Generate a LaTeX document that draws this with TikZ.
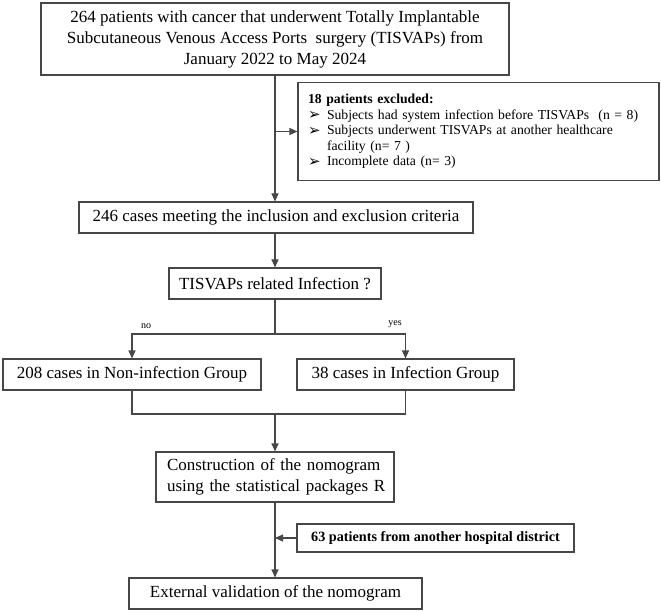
\documentclass[tikz,border=0pt]{standalone}
\usepackage{fontspec}
\setmainfont{Liberation Serif}
\newfontfamily\dejavu{DejaVu Sans}
\usetikzlibrary{arrows.meta}
\newcommand{\bulitem}{\makebox[19pt][l]{\raisebox{-0.3pt}{\dejavu\fontsize{15}{12}\selectfont ➢}}}
\begin{document}
\begin{tikzpicture}[x=1pt,y=-1pt,
  box/.style={draw=black!72, line width=1.1pt, inner sep=0pt, align=center},
  conn/.style={draw=black!72, line width=1.1pt},
  arr/.style={conn,-{Triangle[length=8pt,width=7pt]}},
  big/.style={font=\fontsize{17}{21}\selectfont},
  small/.style={font=\fontsize{13.7}{15.6}\selectfont},
  lbl/.style={font=\fontsize{10}{12}\selectfont, inner sep=0pt}
]
\useasboundingbox (0,0) rectangle (661,612);
\fill[white] (0,0) rectangle (661,612);

\node[box,big,minimum width=468pt,minimum height=72pt] (b1) at (275,39)
  {264 patients with cancer that underwent Totally Implantable\\
   Subcutaneous Venous Access Ports\ \ surgery (TISVAPs) from\\
   January 2022 to May 2024};

\node[box,small,minimum width=361pt,minimum height=98pt,text width=341pt,align=left] (ex) at (478.5,131.5)
  {\textbf{18 patients excluded:}\\
   \bulitem Subjects had system infection before TISVAPs\ \ (n = 8)\\
   \bulitem Subjects underwent TISVAPs\ at another healthcare\\
   \hspace*{19pt}facility (n= 7 )\\
   \bulitem Incomplete data (n= 3)};

\node[box,big,minimum width=394pt,minimum height=31pt] (b246) at (276,217.5)
  {246 cases meeting the inclusion and exclusion criteria};

\node[box,big,minimum width=212pt,minimum height=31pt] (q) at (275,283.5)
  {TISVAPs related Infection ?};

\node[box,big,minimum width=258pt,minimum height=31pt] (no) at (132,374.5)
  {208 cases in Non-infection Group};
\node[box,big,minimum width=217pt,minimum height=31pt] (yes) at (405.5,374.5)
  {38 cases in Infection Group};

\node[box,big,minimum width=238pt,minimum height=50pt,text width=216pt,align=left] (con) at (275,477)
  {\mbox{Construction of the nomogram}\\\mbox{using the statistical packages R}};

\node[box,font=\bfseries\fontsize{14.2}{16}\selectfont,minimum width=277pt,minimum height=28pt] (p63) at (435.5,538)
  {63 patients from another hospital district};

\node[box,big,minimum width=293pt,minimum height=31pt] (ext) at (275.5,593.5)
  {External validation of the nomogram};

\coordinate (j1) at (275,131.5);
\coordinate (br) at (275,334);
\coordinate (mg) at (275,414);
\coordinate (j2) at (275,538);

\draw[conn] (b1.south -| j1) -- (j1);
\draw[arr] (j1) -- (ex.west);
\draw[arr] (j1) -- (b246.north -| j1);
\draw[arr] (b246.south -| j1) -- (q.north -| j1);
\draw[conn] (q.south -| br) -- (br);
\draw[arr] (br) -| (no.north);
\draw[arr] (br) -| (yes.north);
\draw[conn] (no.south) |- (mg);
\draw[conn] (yes.south) |- (mg);
\draw[arr] (mg) -- (con.north -| mg);
\draw[conn] (con.south -| j2) -- (j2);
\draw[arr] (p63.west) -- (j2);
\draw[arr] (j2) -- (ext.north -| j2);

\node[lbl] (lno) at (146,326) {no};
\node[lbl] (lyes) at (395,324) {yes};
\end{tikzpicture}
\end{document}
